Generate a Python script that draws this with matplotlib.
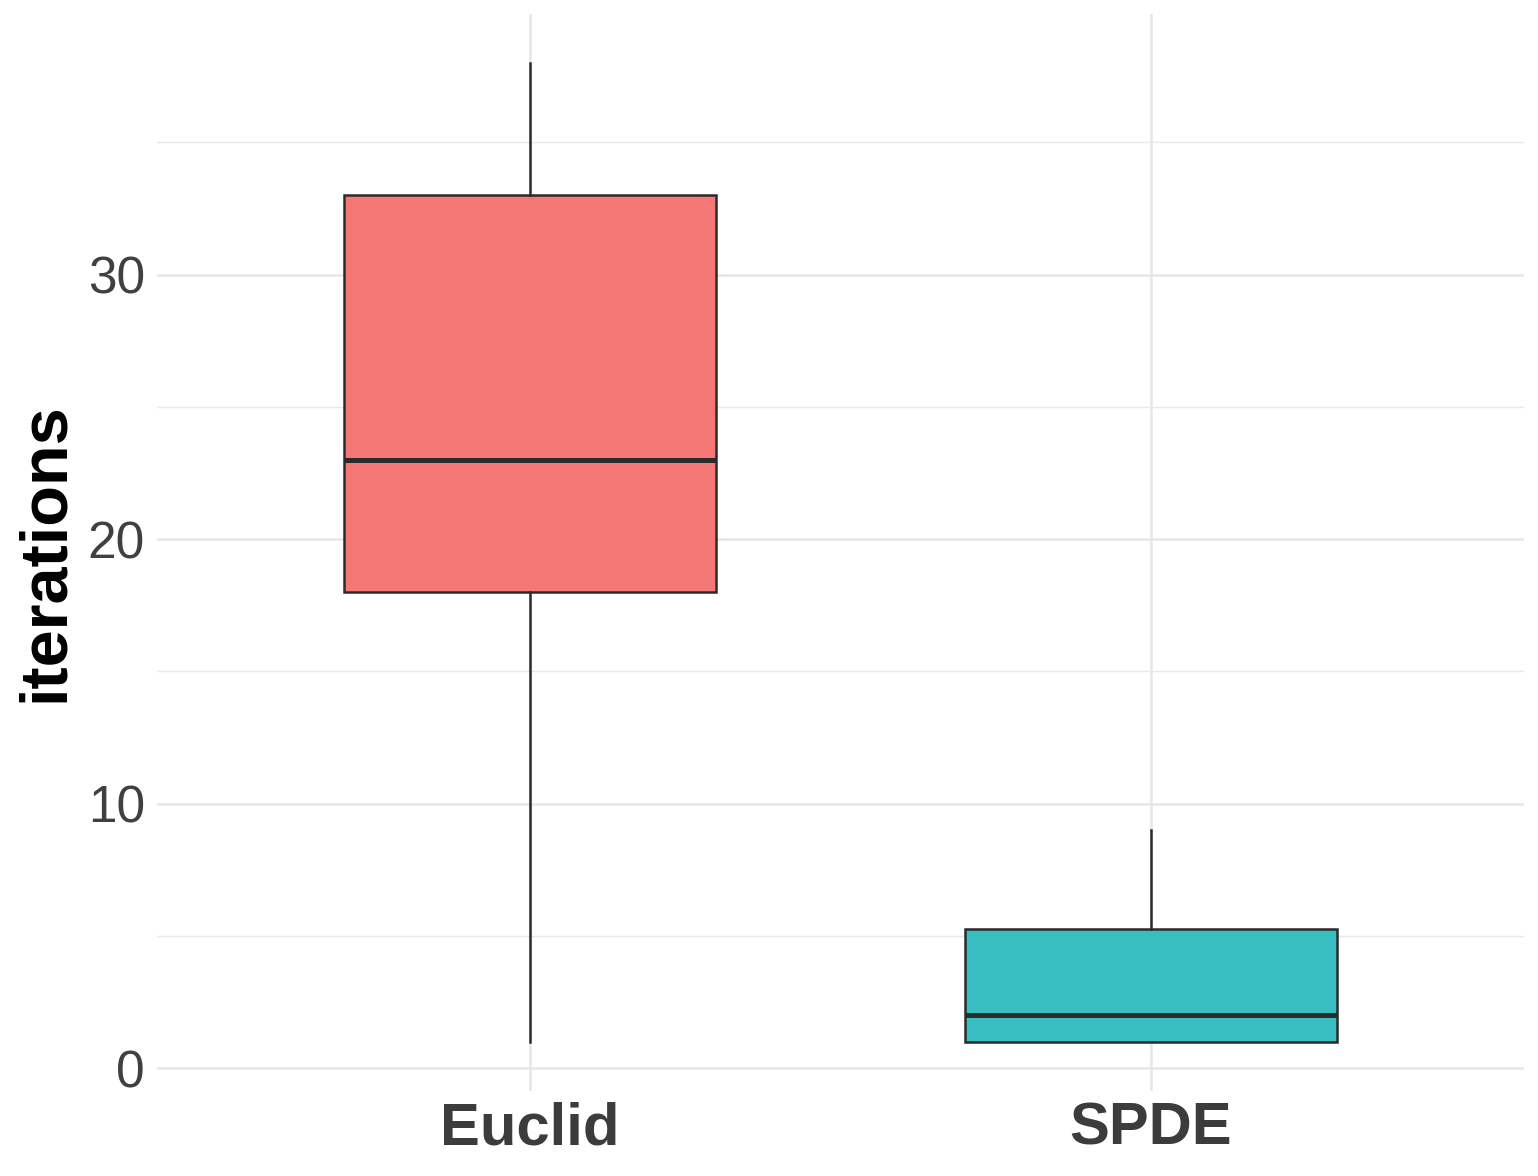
import matplotlib.pyplot as plt
from matplotlib.ticker import MultipleLocator

# box statistics
groups = ["Euclid", "SPDE"]
whisker_low = [1, 1]
q1 = [18, 1]
medians = [23, 2]
q3 = [33, 5.25]
whisker_high = [38, 9]
fills = ["#F47775", "#38BDC1"]

plt.rcParams["font.family"] = ["Liberation Sans", "DejaVu Sans"]

fig = plt.figure(figsize=(15.38, 11.76), dpi=100)
ax = fig.add_axes([0.1023, 0.0727, 0.8883, 0.9153])

stats = []
for g, lo, a, m, b, hi in zip(groups, whisker_low, q1, medians, q3, whisker_high):
    stats.append(dict(label=g, whislo=lo, q1=a, med=m, q3=b, whishi=hi, fliers=[]))

edge = "#2B2B2B"
bp = ax.bxp(stats, positions=[1, 2], widths=0.6, patch_artist=True,
            showcaps=False, showfliers=False,
            boxprops=dict(edgecolor=edge, linewidth=1.8),
            whiskerprops=dict(color=edge, linewidth=1.8),
            medianprops=dict(color=edge, linewidth=3.6, solid_capstyle="butt"))
for box, c in zip(bp["boxes"], fills):
    box.set_facecolor(c)
    box.set_edgecolor(edge)
    box.set_zorder(3)
for k in ("whiskers", "medians"):
    for ln in bp[k]:
        ln.set_zorder(4)

ax.set_xlim(0.4, 2.6)
ax.set_ylim(-0.85, 39.85)
ax.yaxis.set_major_locator(MultipleLocator(10))
ax.yaxis.set_minor_locator(MultipleLocator(5))

ax.grid(which="major", color="#E6E6E6", linewidth=1.8)
ax.grid(which="minor", axis="y", color="#E9E9E9", linewidth=1.0)
ax.set_axisbelow(True)

for s in ax.spines.values():
    s.set_visible(False)
ax.tick_params(which="both", length=0)
ax.tick_params(axis="y", labelsize=37, labelcolor="#404040", pad=9)
ax.tick_params(axis="x", labelsize=43, labelcolor="#3C3C3C", pad=8)
for t in ax.get_xticklabels():
    t.set_fontweight("bold")

ax.set_ylabel("iterations", fontsize=48, fontweight="bold", color="black", labelpad=8)

plt.savefig("out.png", dpi=100)
